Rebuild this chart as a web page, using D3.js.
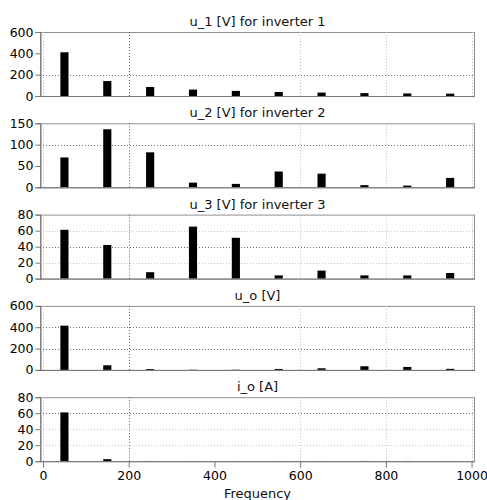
<!DOCTYPE html>
<html>
<head>
<meta charset="utf-8">
<title>Harmonic spectra</title>
<script src="https://d3js.org/d3.v7.min.js"></script>
<style>
  body { margin: 0; background: #fff; }
  text { font-family: "DejaVu Sans", Verdana, sans-serif; }
</style>
</head>
<body>
<div id="chart"></div>
<script>
    // harmonic frequencies (Hz)
    var freqs = [50, 150, 250, 350, 450, 550, 650, 750, 850, 950];

    // amplitudes
    var u1 = [410, 140, 85, 60, 48, 38, 32, 27, 24, 22];
    var u2 = [70, 136, 82, 11, 8, 37, 32, 5, 4, 22];
    var u3 = [61, 42, 8, 65, 51, 4, 10, 4, 4, 7];
    var uo = [415, 43, 8, 2, 2, 9, 15, 34, 28, 10];
    var io = [61, 2.5, 0.3, 0.2, 0.2, 0.2, 0.2, 0.3, 0.3, 0.2];

    var titles = ["u_1 [V] for inverter 1", "u_2 [V] for inverter 2",
                  "u_3 [V] for inverter 3", "u_o [V]", "i_o [A]"];
    var yMax = [600, 150, 80, 600, 80];
    var yTicks = [[0, 200, 400, 600], [0, 50, 100, 150], [0, 20, 40, 60, 80],
                  [0, 200, 400, 600], [0, 20, 40, 60, 80]];
    // dotted grid lines (strong / faint)
    var gridStrong = [[200], [100], [40], [200, 400], [60]];
    var gridFaint = [[], [], [20, 60], [], [20, 40]];

    var xTicks = [0, 200, 400, 600, 800, 1000];
    var xGridStrong = [200];
    var xGridFaint = [0, 600, 800, 1000];

    var series = [u1, u2, u3, uo, io];

    var width = 487, height = 500;
    var left = 40, right = 475;
    var top0 = 32, step = 91.3, ph = 64;

    var svg = d3.select("#chart").append("svg")
        .attr("width", width)
        .attr("height", height);

    var x = d3.scaleLinear().domain([-7, 1008]).range([left, right]);
    var halfBar = 9.5;

    series.forEach(function (vals, i) {
        var top = top0 + i * step;
        var y = d3.scaleLinear().domain([0, yMax[i]]).range([top + ph, top]);
        var g = svg.append("g");

        // frame
        g.append("rect")
            .attr("x", left + 0.5).attr("y", top + 0.5)
            .attr("width", right - left - 1).attr("height", ph)
            .attr("fill", "none")
            .attr("stroke", "#909090")
            .attr("stroke-width", 1);

        // grid lines
        function hgrid(list, col) {
            g.selectAll(null).data(list).enter().append("line")
                .attr("x1", left).attr("x2", right)
                .attr("y1", function (d) { return Math.round(y(d)) + 0.5; })
                .attr("y2", function (d) { return Math.round(y(d)) + 0.5; })
                .attr("stroke", col)
                .attr("stroke-dasharray", "1,2");
        }
        function vgrid(list, col) {
            g.selectAll(null).data(list).enter().append("line")
                .attr("y1", top).attr("y2", top + ph)
                .attr("x1", function (d) { return Math.round(x(d)) + 0.5; })
                .attr("x2", function (d) { return Math.round(x(d)) + 0.5; })
                .attr("stroke", col)
                .attr("stroke-dasharray", "1,2");
        }
        hgrid(gridFaint[i], "#c8c8c8");
        vgrid(xGridFaint, "#c0c0c0");
        hgrid(gridStrong[i], "#707070");
        vgrid(xGridStrong, "#606060");

        // bars
        g.selectAll("rect.bar").data(vals).enter().append("rect")
            .attr("class", "bar")
            .attr("x", function (d, j) { return x(freqs[j] - halfBar); })
            .attr("width", function (d, j) { return x(freqs[j] + halfBar) - x(freqs[j] - halfBar); })
            .attr("y", function (d) { return y(d); })
            .attr("height", function (d) { return y(0) - y(d); })
            .attr("fill", "#000");

        // y axis
        var ya = g.append("g")
            .attr("transform", "translate(" + (left + 0.5) + ",0)")
            .call(d3.axisLeft(y).tickValues(yTicks[i]).tickSize(5).tickPadding(2));
        ya.select(".domain").attr("stroke", "#777");
        ya.selectAll(".tick line").attr("stroke", "#777");
        ya.selectAll("text").attr("font-size", "12.5px").attr("fill", "#000")
            .attr("font-family", "DejaVu Sans, sans-serif");

        // bottom axis line
        g.append("line")
            .attr("x1", left).attr("x2", right)
            .attr("y1", top + ph + 0.5).attr("y2", top + ph + 0.5)
            .attr("stroke", "#777");

        // title
        g.append("text")
            .attr("x", (left + right) / 2)
            .attr("y", top - 6)
            .attr("text-anchor", "middle")
            .attr("font-size", "13px")
            .attr("fill", "#111")
            .text(titles[i]);

        if (i == series.length - 1) {
            var xa = g.append("g")
                .attr("transform", "translate(0," + (top + ph + 0.5) + ")")
                .call(d3.axisBottom(x).tickValues(xTicks).tickFormat(d3.format("d"))
                    .tickSize(6).tickPadding(3));
            xa.select(".domain").remove();
            xa.selectAll(".tick line").attr("stroke", "#777");
            xa.selectAll("text").attr("font-size", "12.5px").attr("fill", "#000")
                .attr("font-family", "DejaVu Sans, sans-serif");

            g.append("text")
                .attr("x", (left + right) / 2)
                .attr("y", 498)
                .attr("text-anchor", "middle")
                .attr("font-size", "13px")
                .attr("fill", "#111")
                .text("Frequency");
        }
    });
</script>
</body>
</html>
